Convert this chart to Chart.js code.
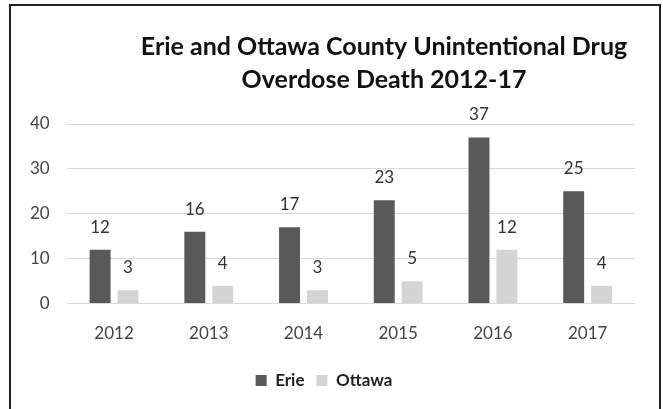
<!DOCTYPE html>
<html>
<head>
    <script src="https://cdn.jsdelivr.net/npm/chart.js"></script>
    <style>
        body { margin: 0; background: #fff; }
        #frame {
            position: absolute; left: 9px; top: 4px;
            width: 648px; height: 410px;
            border: 2px solid #222; border-bottom: none;
        }
    </style>
</head>
<body>
    <div id="frame">
        <canvas id="chartId" width="648" height="405"></canvas>
    </div>
    <script>
        const years = ['2012', '2013', '2014', '2015', '2016', '2017'];
        const erie = [12, 16, 17, 23, 37, 25];
        const ottawa = [3, 4, 3, 5, 12, 4];
        const yTicks = [0, 10, 20, 30, 40];
        const titleLines = ['Erie and Ottawa County Unintentional Drug', 'Overdose Death 2012-17'];

        const font = 'Lato, "Open Sans", sans-serif';

        // title drawn by hand so it can sit right of center like the original
        const titlePlugin = {
            id: 'sideTitle',
            afterDraw(chart) {
                const ctx = chart.ctx;
                ctx.save();
                ctx.font = 'bold 25px ' + font;
                ctx.fillStyle = '#111';
                ctx.textAlign = 'center';
                ctx.textBaseline = 'middle';
                ctx.fillText(titleLines[0], 373, 41);
                ctx.fillText(titleLines[1], 373, 74);
                ctx.restore();
            }
        };

        // value labels above the bars
        const valuePlugin = {
            id: 'values',
            afterDatasetsDraw(chart) {
                const ctx = chart.ctx;
                ctx.save();
                ctx.font = '17px ' + font;
                ctx.fillStyle = '#333';
                ctx.textAlign = 'center';
                ctx.textBaseline = 'bottom';
                chart.data.datasets.forEach((ds, i) => {
                    chart.getDatasetMeta(i).data.forEach((bar, j) => {
                        ctx.fillText(ds.data[j], bar.x, bar.y - 14);
                    });
                });
                ctx.restore();
            }
        };

        new Chart(document.getElementById('chartId'), {
            type: 'bar',
            data: {
                labels: years,
                datasets: [
                    { label: 'Erie', data: erie, backgroundColor: '#595959' },
                    { label: 'Ottawa', data: ottawa, backgroundColor: '#d4d4d4' }
                ]
            },
            options: {
                responsive: false,
                animation: false,
                layout: { padding: { top: 118, left: 2, right: 24, bottom: 12 } },
                datasets: { bar: { categoryPercentage: 0.59, barPercentage: 0.75 } },
                scales: {
                    x: {
                        grid: { display: false },
                        border: { display: false },
                        ticks: { color: '#444', padding: 12, font: { family: font, size: 17 } },
                        afterFit(scale) { scale.height += 4; }
                    },
                    y: {
                        min: 0,
                        max: 40,
                        afterBuildTicks(scale) { scale.ticks = yTicks.map(v => ({ value: v })); },
                        grid: { color: '#d9d9d9', drawTicks: false },
                        border: { display: false },
                        ticks: { color: '#444', padding: 17, font: { family: font, size: 17 } }
                    }
                },
                plugins: {
                    title: { display: false },
                    tooltip: { enabled: false },
                    legend: {
                        position: 'bottom',
                        labels: {
                            boxWidth: 11,
                            boxHeight: 11,
                            padding: 12,
                            color: '#222',
                            font: { family: font, size: 17, weight: 'bold' }
                        }
                    }
                }
            },
            plugins: [titlePlugin, valuePlugin]
        });
    </script>
</body>
</html>
